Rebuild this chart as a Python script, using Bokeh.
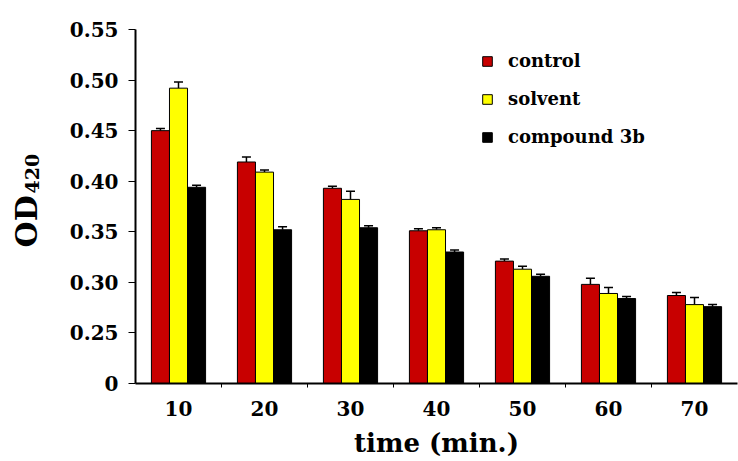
import math
from bokeh.plotting import figure
from bokeh.models import (ColumnDataSource, FixedTicker, Whisker, TeeHead, Label,
                          Legend, LegendItem, Range1d)
from bokeh.transform import dodge
from bokeh.embed import file_html
from bokeh.resources import INLINE

# ---- data ----
times = [10, 20, 30, 40, 50, 60, 70]
control = [0.450, 0.419, 0.393, 0.351, 0.321, 0.298, 0.287]
solvent = [0.492, 0.409, 0.382, 0.352, 0.313, 0.289, 0.278]
compound = [0.394, 0.352, 0.354, 0.330, 0.306, 0.284, 0.276]
control_err = [0.002, 0.005, 0.002, 0.002, 0.002, 0.006, 0.003]
solvent_err = [0.006, 0.002, 0.008, 0.002, 0.003, 0.006, 0.007]
compound_err = [0.002, 0.003, 0.002, 0.002, 0.002, 0.002, 0.002]
y_ticks = [0.20, 0.25, 0.30, 0.35, 0.40, 0.45, 0.50, 0.55]
y_tick_labels = ["0", "0.25", "0.30", "0.35", "0.40", "0.45", "0.50", "0.55"]
series_names = ["control", "solvent", "compound 3b"]

FONT = "DejaVu Serif"
BASE = y_ticks[0]

src = ColumnDataSource(dict(
    time=times,
    control=control, solvent=solvent, compound=compound,
    control_up=[v + e for v, e in zip(control, control_err)],
    solvent_up=[v + e for v, e in zip(solvent, solvent_err)],
    compound_up=[v + e for v, e in zip(compound, compound_err)],
))

p = figure(width=738, height=461, output_backend="svg", toolbar_location=None,
           x_range=Range1d(5, 75), y_range=Range1d(BASE, 0.55),
           min_border_left=135, min_border_right=1, min_border_top=29,
           min_border_bottom=78)
p.outline_line_color = None
p.grid.visible = False
p.background_fill_color = "white"

colors = ["#C80000", "#FFFF00", "#000000"]
fields = ["control", "solvent", "compound"]
offsets = [-2.1, 0.0, 2.1]
bw = 2.1

renderers = []
for f, c, off in zip(fields, colors, offsets):
    r = p.vbar(x=dodge("time", off), top=f, bottom=BASE, width=bw, source=src,
               fill_color=c, line_color="black", line_width=1)
    renderers.append(r)
    w = Whisker(base=dodge("time", off), upper=f + "_up", lower=f, source=src,
                dimension="height", line_color="black", line_width=1.5,
                lower_head=None,
                upper_head=TeeHead(size=9, line_color="black", line_width=1.5))
    p.add_layout(w)

# axes
xa = p.xaxis[0]
xa.ticker = FixedTicker(ticks=times, minor_ticks=[t + 5 for t in times[:-1]])
xa.major_tick_out = 0
xa.major_tick_in = 0
xa.minor_tick_out = 4
xa.minor_tick_in = 0
xa.axis_line_width = 2
xa.major_label_text_font = FONT
xa.major_label_text_font_style = "bold"
xa.major_label_text_font_size = "20px"
xa.major_label_text_color = "black"
xa.major_label_standoff = 13
xa.axis_label = "time (min.)"
xa.axis_label_text_font = FONT
xa.axis_label_text_font_style = "bold"
xa.axis_label_text_font_size = "26px"
xa.axis_label_text_color = "black"
xa.axis_label_standoff = 9

ya = p.yaxis[0]
ya.ticker = FixedTicker(ticks=y_ticks)
ya.major_label_overrides = {t: l for t, l in zip(y_ticks, y_tick_labels)}
ya.minor_tick_line_color = None
ya.major_tick_out = 7
ya.major_tick_in = 0
ya.axis_line_width = 2
ya.major_label_text_font = FONT
ya.major_label_text_font_style = "bold"
ya.major_label_text_font_size = "20px"
ya.major_label_text_color = "black"
ya.major_label_standoff = 10

# y axis label "OD" + smaller "420"
p.add_layout(Label(x=-5, y=136, x_units="screen", y_units="screen", angle=math.pi / 2,
                   text="OD", text_font=FONT, text_font_style="bold",
                   text_font_size="30px", text_align="left", text_baseline="alphabetic",
                   text_color="black"), "left")
p.add_layout(Label(x=14, y=190, x_units="screen", y_units="screen", angle=math.pi / 2,
                   text="420", text_font=FONT, text_font_style="bold",
                   text_font_size="19px", text_align="left", text_baseline="alphabetic",
                   text_color="black"), "left")

legend = Legend(items=[LegendItem(label=n, renderers=[r]) for n, r in zip(series_names, renderers)],
                location=(346, 236), orientation="vertical",
                glyph_width=12, glyph_height=12, label_height=20, spacing=17,
                label_standoff=15, padding=0, margin=0,
                border_line_color=None, background_fill_alpha=0,
                label_text_font=FONT, label_text_font_style="bold",
                label_text_font_size="18px", label_text_color="black")
p.add_layout(legend)

open("out.html", "w").write(file_html(p, INLINE))
